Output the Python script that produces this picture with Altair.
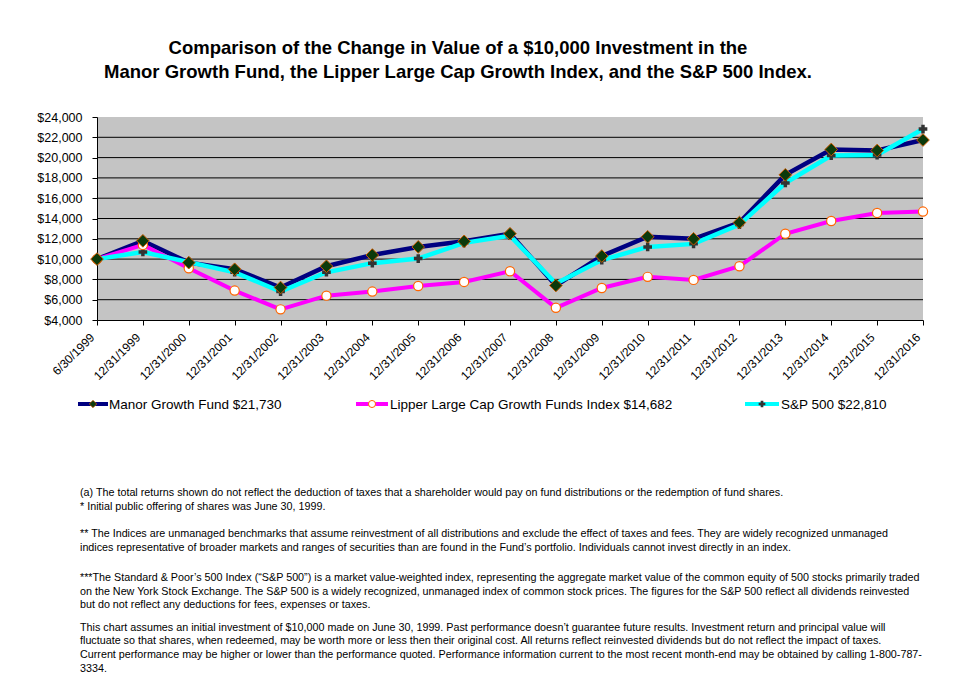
import altair as alt
import pandas as pd

# ---------------- data ----------------
dates = ["6/30/1999", "12/31/1999", "12/31/2000", "12/31/2001", "12/31/2002",
         "12/31/2003", "12/31/2004", "12/31/2005", "12/31/2006", "12/31/2007",
         "12/31/2008", "12/31/2009", "12/31/2010", "12/31/2011", "12/31/2012",
         "12/31/2013", "12/31/2014", "12/31/2015", "12/31/2016"]
manor = [10000, 11800, 9650, 9000, 7200, 9300, 10400, 11200, 11750, 12500,
         7400, 10300, 12200, 12000, 13600, 18300, 20800, 20700, 21730]
lipper = [10000, 11400, 9100, 6900, 5050, 6400, 6800, 7350, 7750, 8800,
          5200, 7150, 8250, 7950, 9300, 12500, 13750, 14550, 14682]
sp500 = [10000, 10700, 9700, 8700, 6800, 8700, 9600, 10050, 11600, 12300,
         7600, 9900, 11200, 11500, 13400, 17500, 20200, 20250, 22810]
series_names = ["Manor Growth Fund", "Lipper Large Cap Growth Funds Index", "S&P 500"]
legend_labels = ["Manor Growth Fund $21,730",
                 "Lipper Large Cap Growth Funds Index $14,682",
                 "S&P 500 $22,810"]
y_ticks = [4000, 6000, 8000, 10000, 12000, 14000, 16000, 18000, 20000, 22000, 24000]
grid_vals = [6000, 8000, 10000, 12000, 14000, 16000, 18000, 20000, 22000]

title_lines = ["Comparison of the Change in Value of a $10,000 Investment in the",
               "Manor Growth Fund, the Lipper Large Cap Growth Index, and the S&P 500 Index."]
footnotes = [
    "(a) The total returns shown do not reflect the deduction of taxes that a shareholder would pay on fund distributions or the redemption of fund shares.",
    "* Initial public offering of shares was June 30, 1999.",
    "** The Indices are unmanaged benchmarks that assume reinvestment of all distributions and exclude the effect of taxes and fees.  They are widely recognized unmanaged",
    "indices representative of broader markets and ranges of securities than are found in the Fund\u2019s portfolio.  Individuals cannot invest directly in an index.",
    "***The Standard & Poor\u2019s 500 Index (\u201cS&P 500\u201d) is a market value-weighted index, representing the aggregate market value of the common equity of 500 stocks primarily traded",
    "on the New York Stock Exchange.  The S&P 500 is a widely recognized, unmanaged index of common stock prices.  The figures for the S&P 500 reflect all dividends reinvested",
    "but do not reflect any deductions for fees, expenses or taxes.",
    "This chart assumes an initial investment of $10,000 made on June 30, 1999. Past performance doesn\u2019t guarantee future results. Investment return and principal value will",
    "fluctuate so that shares, when redeemed, may be worth more or less then their original cost.  All returns reflect reinvested dividends but do not reflect the impact of taxes.",
    "Current performance may be higher or lower than the performance quoted.  Performance information current to the most recent month-end may be obtained by calling 1-800-787-",
    "3334.",
]

rows = []
for name, vals in zip(series_names, [manor, lipper, sp500]):
    for d, v in zip(dates, vals):
        rows.append({"date": d, "series": name, "value": v})
df = pd.DataFrame(rows)

# ---------------- layout ----------------
FONT = "Liberation Sans"
W, H = 826, 203
OX, OY = 97, 117  # page position of plot origin


def px(x):
    return x - OX


def py(y):
    return y - OY


yscale = alt.Scale(domain=[4000, 24000], nice=False, zero=False)
X = alt.X("date:O", sort=dates, title=None,
          scale=alt.Scale(domain=dates, padding=0),
          axis=alt.Axis(labelAngle=315, labelAlign="right", labelBaseline="middle",
                        labelPadding=10, labelOffset=-5, tickSize=5, labelFontSize=12))
Y = alt.Y("value:Q", scale=yscale, title=None,
          axis=alt.Axis(values=y_ticks, format="$,.0f", grid=False, tickSize=5,
                        labelPadding=10, labelFontSize=12.5))

base = alt.Chart(df)


def sel(name):
    return base.transform_filter(alt.datum.series == name)


grid = alt.Chart(pd.DataFrame({"value": grid_vals})).mark_rule(
    color="black", strokeWidth=1).encode(y=Y)

line_manor = sel(series_names[0]).mark_line(color="#000080", strokeWidth=4.5).encode(x=X, y=Y)
line_lipper = sel(series_names[1]).mark_line(color="#ff00ff", strokeWidth=4).encode(x=X, y=Y)
line_sp = sel(series_names[2]).mark_line(color="#00ffff", strokeWidth=4.5).encode(x=X, y=Y)

pt_sp = sel(series_names[2]).mark_point(shape="cross", filled=True, fill="#333333",
                                        strokeWidth=0, size=75, opacity=1).encode(x=X, y=Y)
pt_lipper = sel(series_names[1]).mark_point(shape="circle", filled=True, fill="white",
                                            stroke="#ff6600", strokeWidth=1.2, size=85,
                                            opacity=1).encode(x=X, y=Y)
pt_manor = sel(series_names[0]).mark_point(shape="diamond", filled=True, fill="#0b3a0b",
                                           stroke="#c85a00", strokeWidth=1, size=160,
                                           opacity=1).encode(x=X, y=Y)

one = pd.DataFrame({"k": [0]})


def text_layer(txt, x, y, size, align="left", weight="normal"):
    return alt.Chart(pd.DataFrame({"t": [txt]})).mark_text(
        align=align, baseline="middle", font=FONT, fontSize=size,
        fontWeight=weight, color="black").encode(
        text="t:N", x=alt.value(px(x)), y=alt.value(py(y)))


layers = [grid, line_manor, line_lipper, line_sp, pt_sp, pt_lipper, pt_manor]

# title
layers.append(text_layer(title_lines[0], 458, 48, 18.5, align="center", weight="bold"))
layers.append(text_layer(title_lines[1], 458, 72, 18.5, align="center", weight="bold"))

# legend
LEG_Y = 404
leg_specs = [
    (78, 108, 109, "#000080", dict(shape="diamond", filled=True, fill="#0b3a0b",
                                   stroke="#c85a00", strokeWidth=0.8, size=55)),
    (356, 388, 390, "#ff00ff", dict(shape="circle", filled=True, fill="white",
                                    stroke="#ff6600", strokeWidth=1, size=50)),
    (745, 779, 781, "#00ffff", dict(shape="cross", filled=True, fill="#333333",
                                    strokeWidth=0, size=45)),
]
for (x1, x2, tx, col, mk), lab in zip(leg_specs, legend_labels):
    layers.append(alt.Chart(one).mark_rule(color=col, strokeWidth=4).encode(
        x=alt.value(px(x1)), x2=alt.value(px(x2)), y=alt.value(py(LEG_Y))))
    layers.append(alt.Chart(one).mark_point(opacity=1, **mk).encode(
        x=alt.value(px((x1 + x2) / 2)), y=alt.value(py(LEG_Y))))
    layers.append(text_layer(lab, tx, LEG_Y + 1, 13.5))

# footnotes
foot_y = [493, 507, 534, 548, 578, 592, 605, 628, 641, 655, 669]
for txt, fy in zip(footnotes, foot_y):
    layers.append(text_layer(txt, 80, fy, 10.75))

chart = alt.layer(*layers).properties(
    width=W, height=H,
    padding={"left": OX - 8, "top": OY - 8, "right": 15, "bottom": 358},
    autosize=alt.AutoSizeParams(type="none"),
    background="white",
).configure_view(strokeWidth=0, fill="#c4c4c4").configure_axis(
    labelFont=FONT, labelColor="black", domainColor="black", tickColor="black",
    domainWidth=1, tickWidth=1, labelFontWeight="normal"
)

chart.save("out.html", embed_options={"renderer": "svg", "actions": False})
